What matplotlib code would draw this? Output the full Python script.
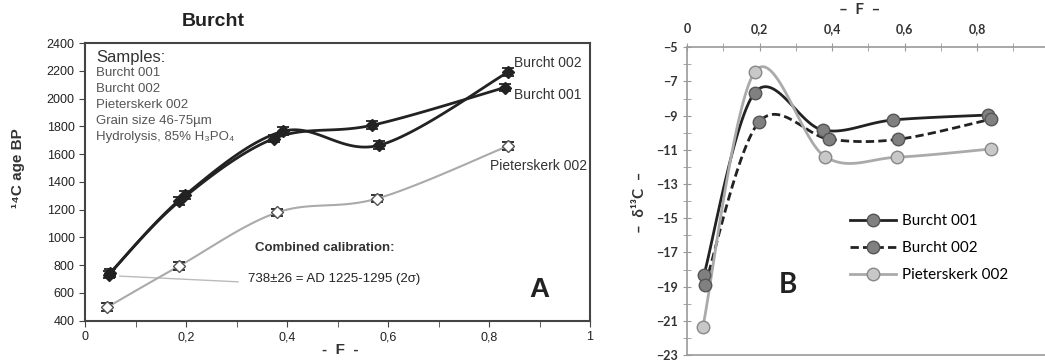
import numpy as np
import matplotlib
matplotlib.use("Agg")
import matplotlib.pyplot as plt
from matplotlib.ticker import MultipleLocator, FuncFormatter

# F values (fraction) per sample
b001_F = [0.047, 0.187, 0.374, 0.569, 0.831]
b002_F = [0.050, 0.198, 0.393, 0.583, 0.838]
pk_F = [0.044, 0.187, 0.381, 0.579, 0.838]

# panel A: 14C ages
b001_age = [732, 1260, 1712, 1808, 2079]
b002_age = [745, 1304, 1765, 1664, 2191]
pk_age = [497, 795, 1180, 1280, 1659]
age_err = 28

# panel B: d13C
b001_d13 = [-18.3, -7.65, -9.84, -9.25, -8.96]
b002_d13 = [-18.9, -9.39, -10.38, -10.38, -9.21]
pk_d13 = [-21.34, -6.43, -11.40, -11.43, -10.95]


def smooth(x, y, n=30):
    # excel-like smoothed line (catmull-rom bezier)
    p = np.column_stack([x, y]).astype(float)
    p = np.vstack([p[0], p, p[-1]])
    out = []
    for i in range(1, len(p) - 2):
        p0, p1, p2, p3 = p[i - 1], p[i], p[i + 1], p[i + 2]
        c1 = p1 + (p2 - p0) / 6
        c2 = p2 - (p3 - p1) / 6
        t = np.linspace(0, 1, n)[:, None]
        seg = (1 - t) ** 3 * p1 + 3 * (1 - t) ** 2 * t * c1 + 3 * (1 - t) * t ** 2 * c2 + t ** 3 * p2
        out.append(seg)
    out = np.vstack(out)
    return out[:, 0], out[:, 1]


comma = FuncFormatter(lambda v, pos: ("%g" % round(v, 2)).replace(".", ","))

fig = plt.figure(figsize=(10.45, 3.62), dpi=100)

# ---------------- panel A ----------------
arial = ["Liberation Sans", "DejaVu Sans"]
ax = fig.add_axes([85 / 1045, 1 - 320.7 / 362, 505 / 1045, 277.7 / 362])
ax.set_xlim(0, 1)
ax.set_ylim(400, 2400)

for F, v, lc, mfc, mec, lw in [
    (b001_F, b001_age, "#222222", "#222222", "#222222", 2.0),
    (b002_F, b002_age, "#222222", "#222222", "#222222", 2.0),
    (pk_F, pk_age, "#aaaaaa", "white", "#555555", 1.5),
]:
    sx, sy = smooth(F, v)
    ax.plot(sx, sy, color=lc, lw=lw, zorder=2)
    ax.errorbar(F, v, yerr=age_err, fmt="D", ms=6.5, mfc=mfc, mec=mec,
                ecolor="#222222", elinewidth=1.2, capsize=4, capthick=1.3, zorder=3)

ax.plot([0.069, 0.303], [721, 680], color="#bbbbbb", lw=1, zorder=1)

ax.xaxis.set_major_locator(MultipleLocator(0.2))
ax.xaxis.set_minor_locator(MultipleLocator(0.1))
ax.xaxis.set_major_formatter(comma)
ax.yaxis.set_major_locator(MultipleLocator(200))
ax.tick_params(which="both", direction="out", length=4, color="#444444",
               labelsize=9, labelcolor="#222222")
for lab in ax.get_xticklabels() + ax.get_yticklabels():
    lab.set_family(arial)
for s in ax.spines.values():
    s.set_color("#444444")
    s.set_linewidth(1.5)

ax.text(0.022, 2297, "Samples:", fontsize=12, color="#333333", family=arial, va="center")
info = ["Burcht 001", "Burcht 002", "Pieterskerk 002", "Grain size 46-75µm",
        "Hydrolysis, 85% H\u2083PO\u2084"]
for i, t in enumerate(info):
    ax.text(0.022, 2182 - i * 115, t, fontsize=9.5, color="#555555", family=arial, va="center")

ax.text(0.85, 2254, "Burcht 002", fontsize=10, color="#333333", family=arial, va="center")
ax.text(0.85, 2023, "Burcht 001", fontsize=10, color="#333333", family=arial, va="center")
ax.text(0.802, 1513, "Pieterskerk 002", fontsize=10, color="#333333", family=arial, va="center")
ax.text(0.337, 923, "Combined calibration:", fontsize=9.5, fontweight="bold",
        color="#333333", family=arial, va="center")
ax.text(0.323, 700, "738±26 = AD 1225-1295 (2σ)", fontsize=9.5, color="#222222",
        family=arial, va="center")
ax.text(0.90, 619, "A", fontsize=20, fontweight="bold", color="#222222",
        family=arial, ha="center", va="center")

fig.text(213 / 1045, 1 - 22 / 362, "Burcht", fontsize=14, fontweight="bold",
         color="#222222", family=arial, ha="center", va="center")
fig.text(340 / 1045, 1 - 350 / 362, "-  F  -", fontsize=11, fontweight="bold",
         color="#333333", family=arial, ha="center", va="center")
fig.text(18 / 1045, 1 - 168 / 362, "\u00b9\u2074C age BP", fontsize=11, fontweight="bold",
         color="#333333", family=arial, ha="center", va="center", rotation=90)

# ---------------- panel B ----------------
cal = ["Lato", "DejaVu Sans"]
bx = fig.add_axes([687 / 1045, 1 - 355 / 362, 362.5 / 1045, 307.7 / 362])
bx.set_xlim(0, 1)
bx.set_ylim(-23, -5)

series = [
    (b001_F, b001_d13, "Burcht 001", "#222222", "-", "#808080", "#555555"),
    (b002_F, b002_d13, "Burcht 002", "#222222", (0, (3, 1.5)), "#808080", "#555555"),
    (pk_F, pk_d13, "Pieterskerk 002", "#aaaaaa", "-", "#c8c8c8", "#888888"),
]
for F, v, name, lc, ls, fc, ec in series:
    sx, sy = smooth(F, v)
    bx.plot(sx, sy, color=lc, lw=2, ls=ls, zorder=2)
    bx.plot([], [], color=lc, lw=2, ls=ls, marker="o", ms=9, mfc=fc, mec=ec, label=name)
    bx.plot(F, v, "o", ms=9, mfc=fc, mec=ec, mew=1, zorder=3)

bx.xaxis.tick_top()
bx.xaxis.set_major_locator(MultipleLocator(0.2))
bx.xaxis.set_minor_locator(MultipleLocator(0.1))
bx.xaxis.set_major_formatter(FuncFormatter(
    lambda v, pos: "" if v > 0.9 else ("%g" % round(v, 2)).replace(".", ",")))
bx.yaxis.set_minor_locator(MultipleLocator(1))
bx.set_yticks(np.arange(-23, -4, 2))
bx.tick_params(which="both", direction="inout", length=6, color="#999999",
               labelsize=9, labelcolor="#333333")
bx.tick_params(axis="x", pad=6)
for lab in bx.get_xticklabels() + bx.get_yticklabels():
    lab.set_family(cal)
    lab.set_fontweight("bold")
bx.spines["right"].set_visible(False)
for k in ["left", "top", "bottom"]:
    bx.spines[k].set_color("#999999")
    bx.spines[k].set_linewidth(1.2)

bx.text(0.279, -18.9, "B", fontsize=20, fontweight="bold", color="#222222",
        family=cal, ha="center", va="center")
bx.legend(loc="upper left", bbox_to_anchor=(850 / 1045, 1 - 214 / 362),
          bbox_transform=fig.transFigure, frameon=False, borderpad=0,
          borderaxespad=0, handlelength=3.0, handletextpad=0.4, labelspacing=0.85,
          prop={"family": cal, "size": 11})

fig.text(860 / 1045, 1 - 10 / 362, "–  F  –", fontsize=11, fontweight="bold",
         color="#333333", family=cal, ha="center", va="center")
fig.text(640 / 1045, 1 - 202 / 362, "–  δ\u00b9\u00b3C  –", fontsize=11, fontweight="bold",
         color="#333333", family=cal, ha="center", va="center", rotation=90)

fig.savefig("out.png", dpi=100)
